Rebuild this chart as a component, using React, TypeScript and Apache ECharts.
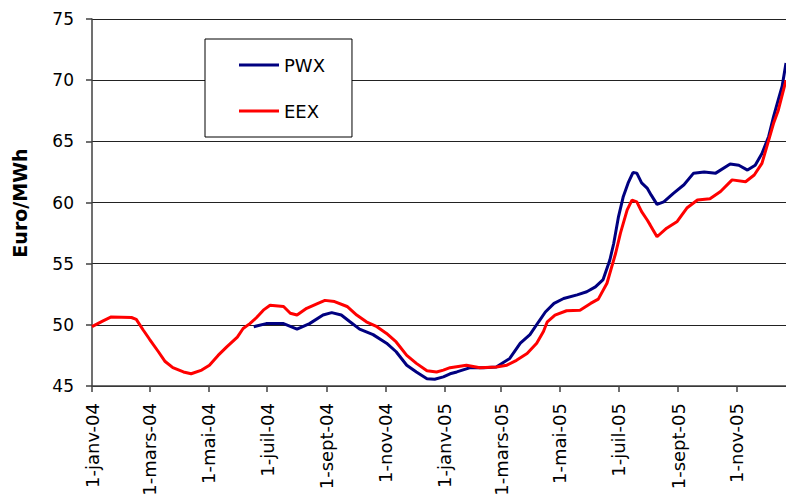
import React, { useEffect, useRef } from "react";
import * as echarts from "echarts";

const EEX_DATES = [
  "2004-01-01", "2004-01-12", "2004-01-21", "2004-02-11", "2004-02-16", "2004-02-23",
  "2004-03-01", "2004-03-10", "2004-03-17", "2004-03-25", "2004-04-05", "2004-04-13",
  "2004-04-24", "2004-05-02", "2004-05-11", "2004-05-20", "2004-05-31", "2004-06-06",
  "2004-06-13", "2004-06-20", "2004-06-27", "2004-07-04", "2004-07-18", "2004-07-25",
  "2004-08-01", "2004-08-11", "2004-08-21", "2004-08-30", "2004-09-09", "2004-09-22",
  "2004-10-02", "2004-10-12", "2004-10-23", "2004-11-02", "2004-11-12", "2004-11-23",
  "2004-12-03", "2004-12-14", "2004-12-24", "2004-12-31", "2005-01-07", "2005-01-24",
  "2005-02-07", "2005-02-24", "2005-03-07", "2005-03-17", "2005-03-28", "2005-04-07",
  "2005-04-14", "2005-04-18", "2005-04-26", "2005-05-08", "2005-05-22", "2005-06-02",
  "2005-06-10", "2005-06-19", "2005-06-28", "2005-07-03", "2005-07-10", "2005-07-15",
  "2005-07-20", "2005-07-25", "2005-07-31", "2005-08-03", "2005-08-10", "2005-08-20",
  "2005-08-31", "2005-09-10", "2005-09-21", "2005-10-04", "2005-10-15", "2005-10-27",
  "2005-11-10", "2005-11-19", "2005-11-27", "2005-12-02", "2005-12-09", "2005-12-14",
  "2005-12-22",
];
const EEX_VALUES = [
  49.85, 50.3, 50.65, 50.6, 50.45, 49.6,
  48.8, 47.8, 47.0, 46.5, 46.15, 46.0,
  46.3, 46.7, 47.5, 48.2, 49.0, 49.7,
  50.1, 50.6, 51.2, 51.6, 51.5, 50.95,
  50.8, 51.35, 51.7, 52.0, 51.9, 51.5,
  50.8, 50.25, 49.85, 49.3, 48.6, 47.5,
  46.85, 46.25, 46.15, 46.3, 46.5, 46.7,
  46.5, 46.55, 46.7, 47.1, 47.65, 48.5,
  49.45, 50.25, 50.8, 51.15, 51.2, 51.75,
  52.1, 53.4, 55.85, 57.5, 59.4, 60.2,
  60.05, 59.25, 58.55, 58.15, 57.2, 57.9,
  58.45, 59.55, 60.2, 60.3, 60.9, 61.85,
  61.7, 62.25, 63.2, 64.55, 66.45, 67.55,
  70.0,
];

const PWX_DATES = [
  "2004-06-17", "2004-06-30", "2004-07-18", "2004-08-01", "2004-08-14", "2004-08-28",
  "2004-09-06", "2004-09-16", "2004-09-25", "2004-10-05", "2004-10-19", "2004-11-02",
  "2004-11-12", "2004-11-23", "2004-12-03", "2004-12-14", "2004-12-22", "2004-12-31",
  "2005-01-07", "2005-01-14", "2005-01-28", "2005-02-11", "2005-02-24", "2005-03-10",
  "2005-03-21", "2005-03-31", "2005-04-09", "2005-04-16", "2005-04-25", "2005-05-05",
  "2005-05-19", "2005-05-29", "2005-06-07", "2005-06-15", "2005-06-22", "2005-06-26",
  "2005-07-01", "2005-07-06", "2005-07-11", "2005-07-16", "2005-07-20", "2005-07-25",
  "2005-07-31", "2005-08-04", "2005-08-10", "2005-08-17", "2005-08-27", "2005-09-07",
  "2005-09-17", "2005-09-28", "2005-10-10", "2005-10-25", "2005-11-03", "2005-11-12",
  "2005-11-20", "2005-11-27", "2005-12-04", "2005-12-09", "2005-12-14", "2005-12-18",
  "2005-12-22",
];
const PWX_VALUES = [
  49.85, 50.1, 50.1, 49.65, 50.1, 50.8,
  51.0, 50.8, 50.25, 49.65, 49.2, 48.5,
  47.8, 46.7, 46.15, 45.6, 45.55, 45.75,
  46.0, 46.15, 46.5, 46.5, 46.55, 47.25,
  48.5, 49.2, 50.25, 51.05, 51.75, 52.15,
  52.45, 52.7, 53.1, 53.7, 55.3, 56.65,
  58.85, 60.5, 61.6, 62.45, 62.4, 61.6,
  61.15, 60.6, 59.85, 60.05, 60.75, 61.45,
  62.4, 62.5, 62.4, 63.15, 63.05, 62.65,
  63.05, 64.0, 65.4, 67.0, 68.4, 69.5,
  71.4,
];

const TICK_DATES = [
  "2004-01-01", "2004-03-01", "2004-05-01", "2004-07-01", "2004-09-01", "2004-11-01",
  "2005-01-01", "2005-03-01", "2005-05-01", "2005-07-01", "2005-09-01", "2005-11-01",
];
const TICK_LABELS = [
  "1-janv-04", "1-mars-04", "1-mai-04", "1-juil-04", "1-sept-04", "1-nov-04",
  "1-janv-05", "1-mars-05", "1-mai-05", "1-juil-05", "1-sept-05", "1-nov-05",
];

const X_START = "2004-01-01";
const X_END = "2005-12-22";
const Y_MIN = 45;
const Y_MAX = 75;
const Y_STEP = 5;

const ts = (s: string) => {
  const [y, m, d] = s.split("-").map(Number);
  return Date.UTC(y, m - 1, d);
};

const FONT = "DejaVu Sans";

export default function App() {
  const ref = useRef<HTMLDivElement>(null);
  useEffect(() => {
    if (!ref.current) return;
    const chart = echarts.init(ref.current, null, { renderer: "svg" });
    const tickTs = TICK_DATES.map(ts);
    chart.setOption({
      animation: false,
      backgroundColor: "#ffffff",
      grid: {
        left: 92,
        right: 0,
        top: 19,
        bottom: 112,
        containLabel: false,
        outerBoundsMode: "none",
      },
      legend: {
        show: true,
        orient: "vertical",
        left: 205,
        top: 39,
        selectedMode: false,
        data: [
          { name: "PWX", icon: "rect" },
          { name: "EEX", icon: "rect" },
        ],
        itemWidth: 40,
        itemHeight: 3,
        itemGap: 26,
        itemTextGap: 5,
        padding: [16, 27, 16, 34],
        borderColor: "#000000",
        borderWidth: 1,
        backgroundColor: "#ffffff",
        textStyle: { fontFamily: FONT, fontSize: 18, color: "#000", lineHeight: 20 },
      },
      graphic: [
        {
          type: "text",
          x: 20,
          y: 203,
          rotation: Math.PI / 2,
          style: {
            text: "Euro/MWh",
            fontFamily: FONT,
            fontWeight: "bold",
            fontSize: 19,
            fill: "#000",
            align: "center",
            verticalAlign: "middle",
          },
        },
      ],
      xAxis: {
        type: "value",
        min: ts(X_START),
        max: ts(X_END),
        axisLine: { show: true, onZero: false, lineStyle: { color: "#404040", width: 1.5 } },
        axisTick: {
          show: true,
          length: 6,
          customValues: tickTs,
          lineStyle: { color: "#404040", width: 1.5 },
        },
        axisLabel: {
          customValues: tickTs,
          rotate: 90,
          margin: 17,
          fontFamily: FONT,
          fontSize: 18,
          color: "#000",
          formatter: (v: number) => {
            const i = tickTs.findIndex((t) => Math.abs(t - v) < 3600000 * 12);
            return i >= 0 ? TICK_LABELS[i] : "";
          },
        },
        splitLine: { show: false },
        minorTick: { show: false },
      },
      yAxis: {
        type: "value",
        min: Y_MIN,
        max: Y_MAX,
        interval: Y_STEP,
        axisLine: { show: true, lineStyle: { color: "#404040", width: 1.5 } },
        axisTick: { show: true, length: 6, lineStyle: { color: "#404040", width: 1.5 } },
        axisLabel: {
          margin: 18,
          fontFamily: FONT,
          fontSize: 17,
          color: "#000",
        },
        splitLine: { show: true, lineStyle: { color: "#222", width: 1 } },
      },
      series: [
        {
          name: "PWX",
          type: "line",
          data: PWX_DATES.map((d, i) => [ts(d), PWX_VALUES[i]]),
          showSymbol: false,
          symbol: "none",
          smooth: false,
          color: "#000080",
          lineStyle: { color: "#000080", width: 3 },
        },
        {
          name: "EEX",
          type: "line",
          data: EEX_DATES.map((d, i) => [ts(d), EEX_VALUES[i]]),
          showSymbol: false,
          symbol: "none",
          smooth: false,
          color: "#ff0000",
          lineStyle: { color: "#ff0000", width: 3 },
        },
      ],
    });
    return () => chart.dispose();
  }, []);
  return (
    <div
      ref={ref}
      style={{ position: "absolute", left: 0, top: 0, width: 786, height: 498, background: "#fff" }}
    />
  );
}
